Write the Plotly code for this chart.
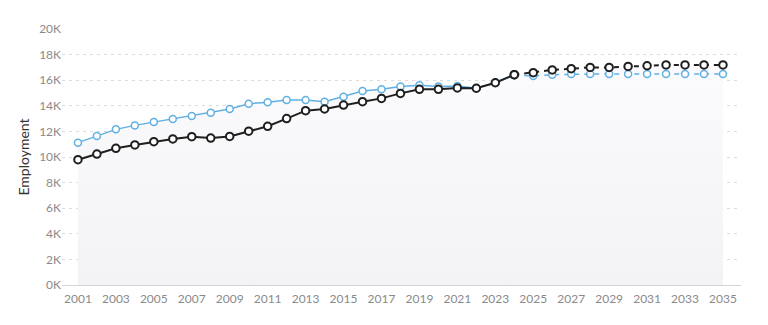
import plotly.graph_objects as go

years_hist = list(range(2001, 2025))
black_hist = [9.79, 10.23, 10.68, 10.94, 11.20, 11.41, 11.59, 11.48, 11.61, 12.02,
              12.40, 13.00, 13.62, 13.75, 14.06, 14.32, 14.58, 14.97, 15.29, 15.29,
              15.39, 15.37, 15.80, 16.43]
blue_hist = [11.12, 11.64, 12.16, 12.47, 12.73, 12.97, 13.20, 13.46, 13.75, 14.16,
             14.27, 14.45, 14.45, 14.32, 14.71, 15.16, 15.29, 15.50, 15.60, 15.50,
             15.55, 15.37, 15.80, 16.40]
years_fc = list(range(2024, 2036))
black_fc = [16.43, 16.59, 16.80, 16.90, 17.00, 17.00, 17.08, 17.13, 17.19, 17.19, 17.19, 17.19]
blue_fc = [16.40, 16.33, 16.43, 16.48, 16.48, 16.48, 16.48, 16.48, 16.48, 16.48, 16.48, 16.48]
y_ticks = [0, 2, 4, 6, 8, 10, 12, 14, 16, 18, 20]
y_tick_labels = ["0K", "2K", "4K", "6K", "8K", "10K", "12K", "14K", "16K", "18K", "20K"]
x_ticks = list(range(2001, 2036, 2))

BLACK = "#1f1f1f"
BLUE = "#62b0e3"

fig = go.Figure()

# light shaded area
fill_x = years_hist + years_fc[1:]
fill_y = [max(a, b) for a, b in zip(black_hist, blue_hist)] + [max(a, b) for a, b in zip(black_fc[1:], blue_fc[1:])]
fig.add_trace(go.Scatter(x=fill_x, y=fill_y, mode="lines", line=dict(width=0),
                         fill="tozeroy",
                         fillgradient=dict(type="vertical",
                                           colorscale=[[0, "rgba(243,243,246,1)"], [1, "rgba(251,251,253,1)"]]),
                         hoverinfo="skip", showlegend=False))

marker_blue = dict(symbol="circle", size=7, color="white", line=dict(color=BLUE, width=1.5))
marker_black = dict(symbol="circle", size=7.5, color="white", line=dict(color=BLACK, width=2))

fig.add_trace(go.Scatter(x=years_fc, y=blue_fc, mode="lines+markers",
                         line=dict(color=BLUE, width=1.5, dash="5px,5px"), marker=marker_blue, showlegend=False))
fig.add_trace(go.Scatter(x=years_hist, y=blue_hist, mode="lines+markers",
                         line=dict(color=BLUE, width=1.5), marker=marker_blue, showlegend=False))
fig.add_trace(go.Scatter(x=years_fc, y=black_fc, mode="lines+markers",
                         line=dict(color=BLACK, width=2, dash="5px,5px"), marker=marker_black, showlegend=False))
fig.add_trace(go.Scatter(x=years_hist, y=black_hist, mode="lines+markers",
                         line=dict(color=BLACK, width=2), marker=marker_black, showlegend=False))

fig.update_layout(
    width=768, height=325,
    margin=dict(l=54, r=35, t=21, b=48),
    paper_bgcolor="white", plot_bgcolor="white",
    font=dict(family="Lato, sans-serif", color="#999999", size=12),
    xaxis=dict(range=[2000.16, 2035.95], tickvals=x_ticks, ticktext=[str(t) for t in x_ticks],
               showgrid=False, zeroline=False, showline=True, linecolor="#d4d4d4", linewidth=1,
               ticks="", ticklabelstandoff=3, tickfont=dict(size=12, color="#8a8a8a")),
    yaxis=dict(range=[0, 20], tickvals=y_ticks, ticktext=y_tick_labels,
               showgrid=True, gridcolor="#dcdcdc", griddash="3px,4px", gridwidth=1,
               zeroline=False, ticks="", tickfont=dict(size=12, color="#8a8a8a"),
               title=dict(text="Employment", font=dict(size=14, color="#333333"), standoff=6)),
)

fig.write_html("out.html")
